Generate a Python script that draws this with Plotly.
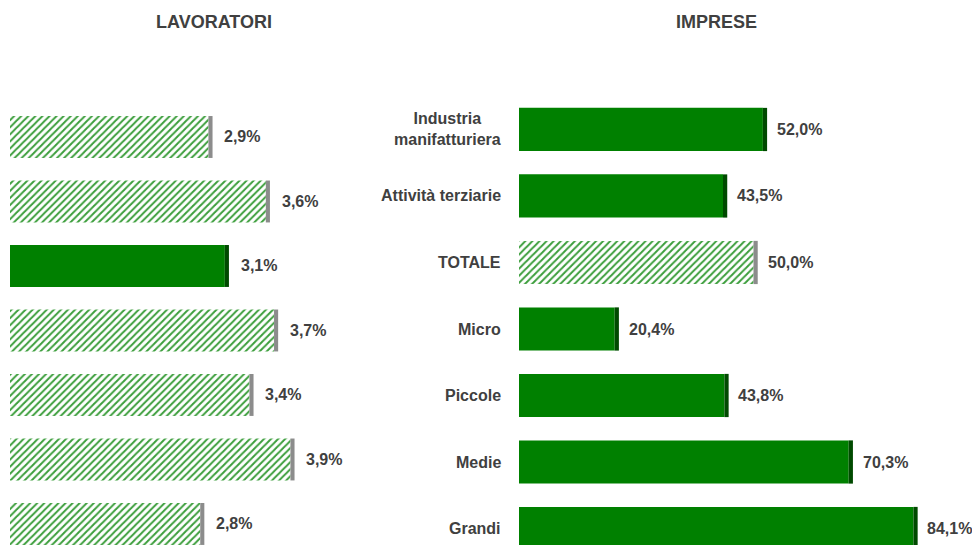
import plotly.graph_objects as go

categories = ["Industria<br>manifatturiera", "Attività terziarie", "TOTALE", "Micro", "Piccole", "Medie", "Grandi"]
lavoratori = [2.9, 3.6, 3.1, 3.7, 3.4, 3.9, 2.8]
imprese = [52.0, 43.5, 50.0, 20.4, 43.8, 70.3, 84.1]
lavoratori_hatched = [True, True, False, True, True, True, True]
imprese_hatched = [False, False, True, False, False, False, False]

GREEN = "#008000"
DARK_GREEN = "#004a00"
STRIPE = "#3c9e3c"
GREY_SIDE = "#8c8c8c"
TEXT = "#404040"
FONT = "Liberation Sans, Arial, sans-serif"

W, H = 972, 545


def _label(v):
    return f"{v:.1f}%".replace(".", ",")


def _font(size):
    return {"size": size, "color": TEXT, "family": FONT, "weight": "bold"}


def _bar_traces(values, hatched, xaxis, yaxis, depth):
    ys = list(range(len(values)))
    front = go.Bar(
        x=values,
        y=ys,
        orientation="h",
        width=0.65,
        marker={
            "color": [STRIPE if h else GREEN for h in hatched],
            "line": {"width": 0},
            "pattern": {
                "shape": ["/" if h else "" for h in hatched],
                "fillmode": "replace",
                "fgcolor": [STRIPE if h else GREEN for h in hatched],
                "bgcolor": "white",
                "size": 5,
                "solidity": 0.4,
            },
        },
        xaxis=xaxis,
        yaxis=yaxis,
        hoverinfo="skip",
        showlegend=False,
    )
    side = go.Bar(
        x=[depth] * len(values),
        base=values,
        y=ys,
        orientation="h",
        width=0.65,
        marker={"color": [GREY_SIDE if h else DARK_GREEN for h in hatched], "line": {"width": 0}},
        xaxis=xaxis,
        yaxis=yaxis,
        hoverinfo="skip",
        showlegend=False,
    )
    return [front, side]


fig = go.Figure()
for tr in _bar_traces(lavoratori, lavoratori_hatched, "x", "y", 0.05):
    fig.add_trace(tr)
for tr in _bar_traces(imprese, imprese_hatched, "x2", "y2", 0.9):
    fig.add_trace(tr)

annotations = []
for i, v in enumerate(lavoratori):
    annotations.append(dict(x=v, y=i, xref="x", yref="y", text=_label(v), xanchor="left", xshift=14,
                            showarrow=False, font=_font(16)))
for i, v in enumerate(imprese):
    annotations.append(dict(x=v, y=i, xref="x2", yref="y2", text=_label(v), xanchor="left", xshift=12,
                            showarrow=False, font=_font(16)))
for i, c in enumerate(categories):
    annotations.append(dict(x=519 / W, y=i, xref="paper", yref="y2", text=c, xanchor="right", xshift=-16,
                            align="center", showarrow=False, font=_font(16)))
annotations.append(dict(x=214 / W, y=1 - 22 / H, xref="paper", yref="paper", text="LAVORATORI",
                        xanchor="center", yanchor="middle", showarrow=False, font=_font(18)))
annotations.append(dict(x=716 / W, y=1 - 22 / H, xref="paper", yref="paper", text="IMPRESE",
                        xanchor="center", yanchor="middle", showarrow=False, font=_font(18)))

fig.update_layout(
    width=W,
    height=H,
    margin={"l": 0, "r": 0, "t": 0, "b": 0},
    paper_bgcolor="white",
    plot_bgcolor="white",
    barmode="overlay",
    annotations=annotations,
    font={"family": FONT, "color": TEXT},
    xaxis={"domain": [10 / W, 350 / W], "range": [0.48, 0.48 + 340 / 82], "visible": False},
    yaxis={"domain": [0, 1], "range": [6.326, -2.124], "visible": False},
    xaxis2={"domain": [519 / W, 1], "range": [0, 453 / 4.69], "visible": False},
    yaxis2={"domain": [0, 1], "range": [6.248, -1.947], "visible": False, "anchor": "x2"},
)

fig.write_html("out.html", config={"displayModeBar": False},
               post_script="document.body.style.margin = '0';")
